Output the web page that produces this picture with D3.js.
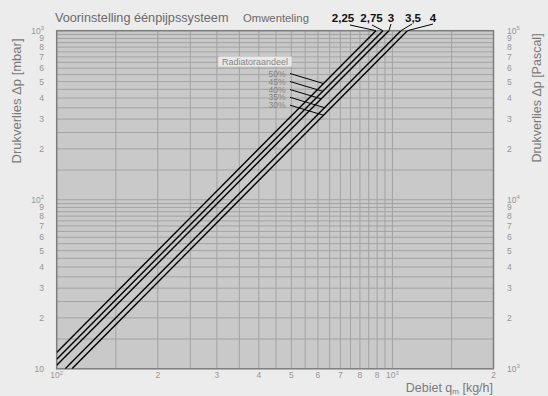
<!DOCTYPE html>
<html><head><meta charset="utf-8">
<script src="https://cdn.jsdelivr.net/npm/d3@7"></script>
<style>
html,body{margin:0;padding:0;background:#ececec;}
svg{display:block;font-family:"Liberation Sans",Arial,sans-serif;}
</style></head>
<body>
<svg id="c" width="548" height="396"></svg>
<script>
// ---- data ----
const settings = ["2,25","2,75","3","3,5","4"];           // Omwenteling
const radiatorShare = ["50%","45%","40%","35%","30%"];     // Radiatoraandeel
// each line: start / end points [flow kg/h, pressure mbar]
const lineStartFlow = [100, 100, 100, 106, 111];
const lineStartDp   = [12.5, 11.4, 10.5, 10, 10];
const lineEndFlow   = [893, 937, 976, 1060, 1108];
const lineEndDp     = [1000, 1000, 1000, 1000, 1000];

const qTicks = [100,200,300,400,500,600,700,800,900,1000,2000];
const qTickLabels = ["10^2","2","3","4","5","6","7","8","8","10^3","2"];
const dpTicks = [10,20,30,40,50,60,70,80,90,100,200,300,400,500,600,700,800,900,1000];
const dpTickLabelsLeft = ["10","2","3","4","5","6","7","8","9","10^2","2","3","4","5","6","7","8","9","10^3"];
const dpTickLabelsRight = ["10^3","2","3","4","5","6","7","8","9","10^4","2","3","4","5","6","7","8","9","10^5"];

// ---- layout ----
const L = 56.7, R = 493.5, T = 30.7, B = 368.8;
const svg = d3.select("#c");
const x = d3.scaleLog().domain([100,2000]).range([L,R]);
const y = d3.scaleLog().domain([10,1000]).range([B,T]);

svg.append("rect").attr("x",L).attr("y",T).attr("width",R-L).attr("height",B-T).attr("fill","#c8c9c8");

const qGrid = d3.range(150,1001,50).concat([1500]);
const dpGrid = d3.range(15,101,5).concat(d3.range(150,1001,50));
const g = svg.append("g");
g.selectAll(".vg").data(qGrid).join("line")
  .attr("x1",d=>x(d)).attr("x2",d=>x(d)).attr("y1",T).attr("y2",B)
  .attr("stroke","#a2a3a2").attr("stroke-width",1);
g.selectAll(".hg").data(dpGrid).join("line")
  .attr("y1",d=>y(d)).attr("y2",d=>y(d)).attr("x1",L).attr("x2",R)
  .attr("stroke","#a2a3a2").attr("stroke-width",1);

svg.append("rect").attr("x",L).attr("y",T).attr("width",R-L).attr("height",B-T)
  .attr("fill","none").attr("stroke","#7d7e7d").attr("stroke-width",1.5);

// clip
svg.append("clipPath").attr("id","clip").append("rect").attr("x",L).attr("y",T).attr("width",R-L).attr("height",B-T);

const lines = settings.map((s,i)=>[[lineStartFlow[i],lineStartDp[i]],[lineEndFlow[i],lineEndDp[i]]]);
const lineGen = d3.line().x(d=>x(d[0])).y(d=>y(d[1]));
svg.append("g").attr("clip-path","url(#clip)").selectAll("path").data(lines).join("path")
  .attr("d",lineGen).attr("fill","none").attr("stroke","#000").attr("stroke-width",1.4);

// tick label helper with superscript
function label(sel, txt){
  const parts = txt.split("^");
  sel.text(parts[0]);
  if(parts.length>1){
    sel.append("tspan").attr("dy",-3.5).attr("font-size","6px").text(parts[1]);
  }
}
const tickCol = "#959595";
qTicks.forEach((v,i)=>{
  const t = svg.append("text").attr("x",x(v)).attr("y",378).attr("text-anchor","middle")
    .attr("font-size","8.5px").attr("fill",tickCol);
  label(t, qTickLabels[i]);
});
dpTicks.forEach((v,i)=>{
  const t = svg.append("text").attr("x",44).attr("y",y(v)+3).attr("text-anchor","end")
    .attr("font-size","8.5px").attr("fill",tickCol);
  label(t, dpTickLabelsLeft[i]);
});
dpTicks.forEach((v,i)=>{
  const t = svg.append("text").attr("x",507).attr("y",y(v)+3).attr("text-anchor","start")
    .attr("font-size","8.5px").attr("fill",tickCol);
  label(t, dpTickLabelsRight[i]);
});

// axis titles
const axCol = "#7a7a7a";
svg.append("text").attr("transform","translate(21,101) rotate(-90)").attr("text-anchor","middle")
  .attr("font-size","13px").attr("fill",axCol).text("Drukverlies Δp [mbar]");
svg.append("text").attr("transform","translate(541,98) rotate(-90)").attr("text-anchor","middle")
  .attr("font-size","12.5px").attr("fill",axCol).text("Drukverlies Δp [Pascal]");
const xt = svg.append("text").attr("x",493).attr("y",392).attr("text-anchor","end")
  .attr("font-size","12.5px").attr("fill",axCol);
xt.append("tspan").text("Debiet q");
xt.append("tspan").attr("font-size","8px").attr("dy",2).text("m");
xt.append("tspan").attr("dy",-2).text(" [kg/h]");

// title
svg.append("text").attr("x",55).attr("y",22).attr("font-size","12.7px").attr("fill","#6a6a6a")
  .text("Voorinstelling éénpijpssysteem");
svg.append("text").attr("x",243).attr("y",22).attr("font-size","11.3px").attr("fill","#6a6a6a")
  .text("Omwenteling");

// bold setting labels and leaders
const setLabelX = [343, 371.5, 391, 413, 433];
const setLeadStart = [[350,25],[372,25],[391,24],[412,24],[433,24]];
settings.forEach((s,i)=>{
  svg.append("text").attr("x",setLabelX[i]).attr("y",22).attr("text-anchor","middle")
    .attr("font-size","11.5px").attr("font-weight","bold").attr("fill","#111").text(s);
  svg.append("line").attr("x1",setLeadStart[i][0]).attr("y1",setLeadStart[i][1])
    .attr("x2",x(lineEndFlow[i])).attr("y2",y(lineEndDp[i]))
    .attr("stroke","#000").attr("stroke-width",1);
});

// Radiatoraandeel box
svg.append("rect").attr("x",218.3).attr("y",56.5).attr("width",73.4).attr("height",10)
  .attr("fill","#e9e9e9");
svg.append("text").attr("x",255).attr("y",64.5).attr("text-anchor","middle")
  .attr("font-size","9px").attr("fill","#858585").text("Radiatoraandeel");

const radY = [73.5, 81.5, 89.5, 97.3, 105.2];
const slope = 0.3;
radiatorShare.forEach((s,i)=>{
  svg.append("text").attr("x",285.5).attr("y",radY[i]+3).attr("text-anchor","end")
    .attr("font-size","8.5px").attr("fill","#858585").text(s);
  const x0 = x(lineStartFlow[i]), y0 = y(lineStartDp[i]);
  const x1 = x(lineEndFlow[i]), y1 = y(lineEndDp[i]);
  const m = (y1-y0)/(x1-x0);
  const sx = 290, sy = radY[i];
  const X = (y0 - m*x0 - sy + slope*sx)/(slope - m);
  const Y = sy + slope*(X-sx);
  svg.append("line").attr("x1",sx).attr("y1",sy).attr("x2",X).attr("y2",Y)
    .attr("stroke","#000").attr("stroke-width",1);
});
</script>
</body></html>
